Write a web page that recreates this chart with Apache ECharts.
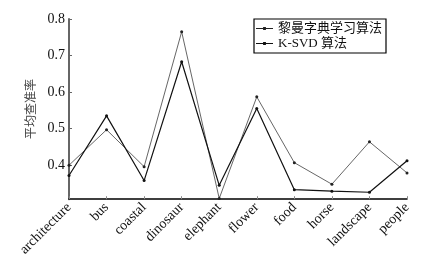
<!DOCTYPE html>
<html>
<head>
<meta charset="utf-8">
<script src="https://cdn.jsdelivr.net/npm/echarts@6/dist/echarts.min.js"></script>
<style>html,body{margin:0;padding:0;background:#fff;}#c{width:436px;height:259px;}</style>
</head>
<body>
<div id="c"></div>
<script>
var categories = ['architecture','bus','coastal','dinosaur','elephant','flower','food','horse','landscape','people'];
var riemannValues = [0.400, 0.497, 0.396, 0.765, 0.309, 0.587, 0.407, 0.348, 0.464, 0.379];
var ksvdValues = [0.372, 0.535, 0.358, 0.683, 0.345, 0.555, 0.333, 0.329, 0.326, 0.412];
var yTicks = [0.4, 0.5, 0.6, 0.7, 0.8];
var seriesNames = ['黎曼字典学习算法', 'K-SVD 算法'];
var yName = '平均查准率';

var serif = '"Liberation Serif", "Noto Sans CJK SC", serif';
var legendIcon = 'path://M0,3.5h18v1h-18z M7.5,2.5h3v3h-3z';
var chart = echarts.init(document.getElementById('c'), null, {renderer: 'canvas'});
chart.setOption({
  backgroundColor: '#fff',
  animation: false,
  grid: {left: 69, right: 29, top: 19, bottom: 59},
  legend: {
    left: 254, top: 19,
    orient: 'vertical',
    itemGap: 2,
    itemWidth: 17, itemHeight: 8,
    padding: [3, 4, 3, 2],
    borderColor: '#000', borderWidth: 1.2,
    textStyle: {fontFamily: serif, fontSize: 13, color: '#111'},
    data: [{name: seriesNames[0], icon: legendIcon}, {name: seriesNames[1], icon: legendIcon}]
  },
  xAxis: {
    type: 'category',
    data: categories,
    boundaryGap: false,
    axisLine: {lineStyle: {color: '#000', width: 1.5}},
    axisTick: {inside: true, length: 3, lineStyle: {color: '#888'}},
    axisLabel: {rotate: 45, margin: 6, fontFamily: serif, fontSize: 14, color: '#111'}
  },
  yAxis: {
    type: 'value',
    min: 0.307, max: 0.8,
    name: yName,
    nameLocation: 'middle',
    nameGap: 32,
    nameRotate: 90,
    nameTextStyle: {fontFamily: '"Noto Sans CJK SC", serif', fontSize: 12, color: '#444'},
    axisLine: {show: true, lineStyle: {color: '#666', width: 2}},
    axisTick: {show: true, inside: true, length: 3, customValues: yTicks, lineStyle: {color: '#666'}},
    axisLabel: {customValues: yTicks, margin: 4, fontFamily: serif, fontSize: 14, color: '#111',
      formatter: function (v) { return v.toFixed(1); }},
    splitLine: {show: false}
  },
  series: [
    {
      name: seriesNames[0], type: 'line', data: riemannValues,
      symbol: 'circle', symbolSize: 3,
      lineStyle: {color: '#555', width: 0.9},
      itemStyle: {color: '#222'}
    },
    {
      name: seriesNames[1], type: 'line', data: ksvdValues,
      symbol: 'circle', symbolSize: 3,
      lineStyle: {color: '#111', width: 1.2},
      itemStyle: {color: '#111'}
    }
  ]
});
</script>
</body>
</html>
